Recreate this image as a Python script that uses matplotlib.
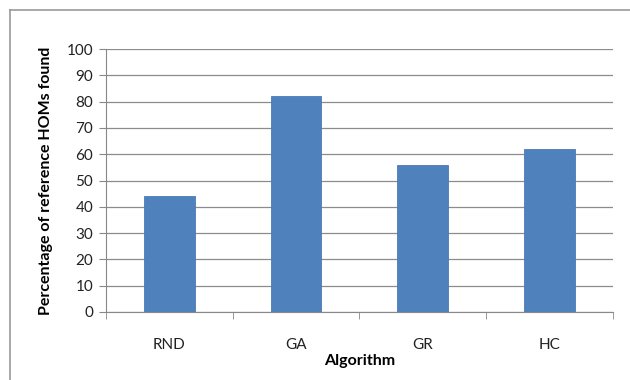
import matplotlib.pyplot as plt
from matplotlib.lines import Line2D

algorithms = ["RND", "GA", "GR", "HC"]
found_pct = [44, 82, 56, 62]

plt.rcParams["font.family"] = ["Lato", "DejaVu Sans"]

fig = plt.figure(figsize=(6.3, 3.8), dpi=100)
ax = fig.add_axes([0.168, 0.179, 0.805, 0.692])

x = range(len(algorithms))
ax.bar(x, found_pct, width=0.4, color="#4f81bd", edgecolor="#4a7ab5", linewidth=0.6, zorder=3)

ax.set_xlim(-0.5, len(algorithms) - 0.5)
ax.set_ylim(0, 100)
ax.set_yticks(range(0, 101, 10))
ax.set_xticks(list(x))
ax.set_xticklabels(algorithms)
ax.set_xticks([i + 0.5 for i in range(-1, len(algorithms))], minor=True)
ax.tick_params(axis="x", which="major", length=0, pad=19, labelsize=11, labelcolor="#222222")
ax.tick_params(axis="x", which="minor", length=5, color="#888888", direction="out")
ax.tick_params(axis="y", length=5, color="#888888", labelsize=11, labelcolor="#222222", pad=4)

ax.grid(axis="y", color="#8c8c8c", linewidth=0.9, zorder=0)
for side in ["top", "right"]:
    ax.spines[side].set_visible(False)
ax.spines["left"].set_color("#888888")
ax.spines["bottom"].set_color("#888888")

ax.set_xlabel("Algorithm", fontweight="bold", fontsize=11.5, labelpad=1)
ax.set_ylabel("Percentage of reference HOMs found", fontweight="bold", fontsize=11.5, labelpad=10)

# page frame around the figure
fig.add_artist(Line2D([10 / 630, 10 / 630], [0, 1 - 10 / 380], color="#999999", linewidth=1.2))
fig.add_artist(Line2D([10 / 630, 1], [1 - 10 / 380, 1 - 10 / 380], color="#999999", linewidth=1.2))

fig.savefig("out.png", dpi=100)
